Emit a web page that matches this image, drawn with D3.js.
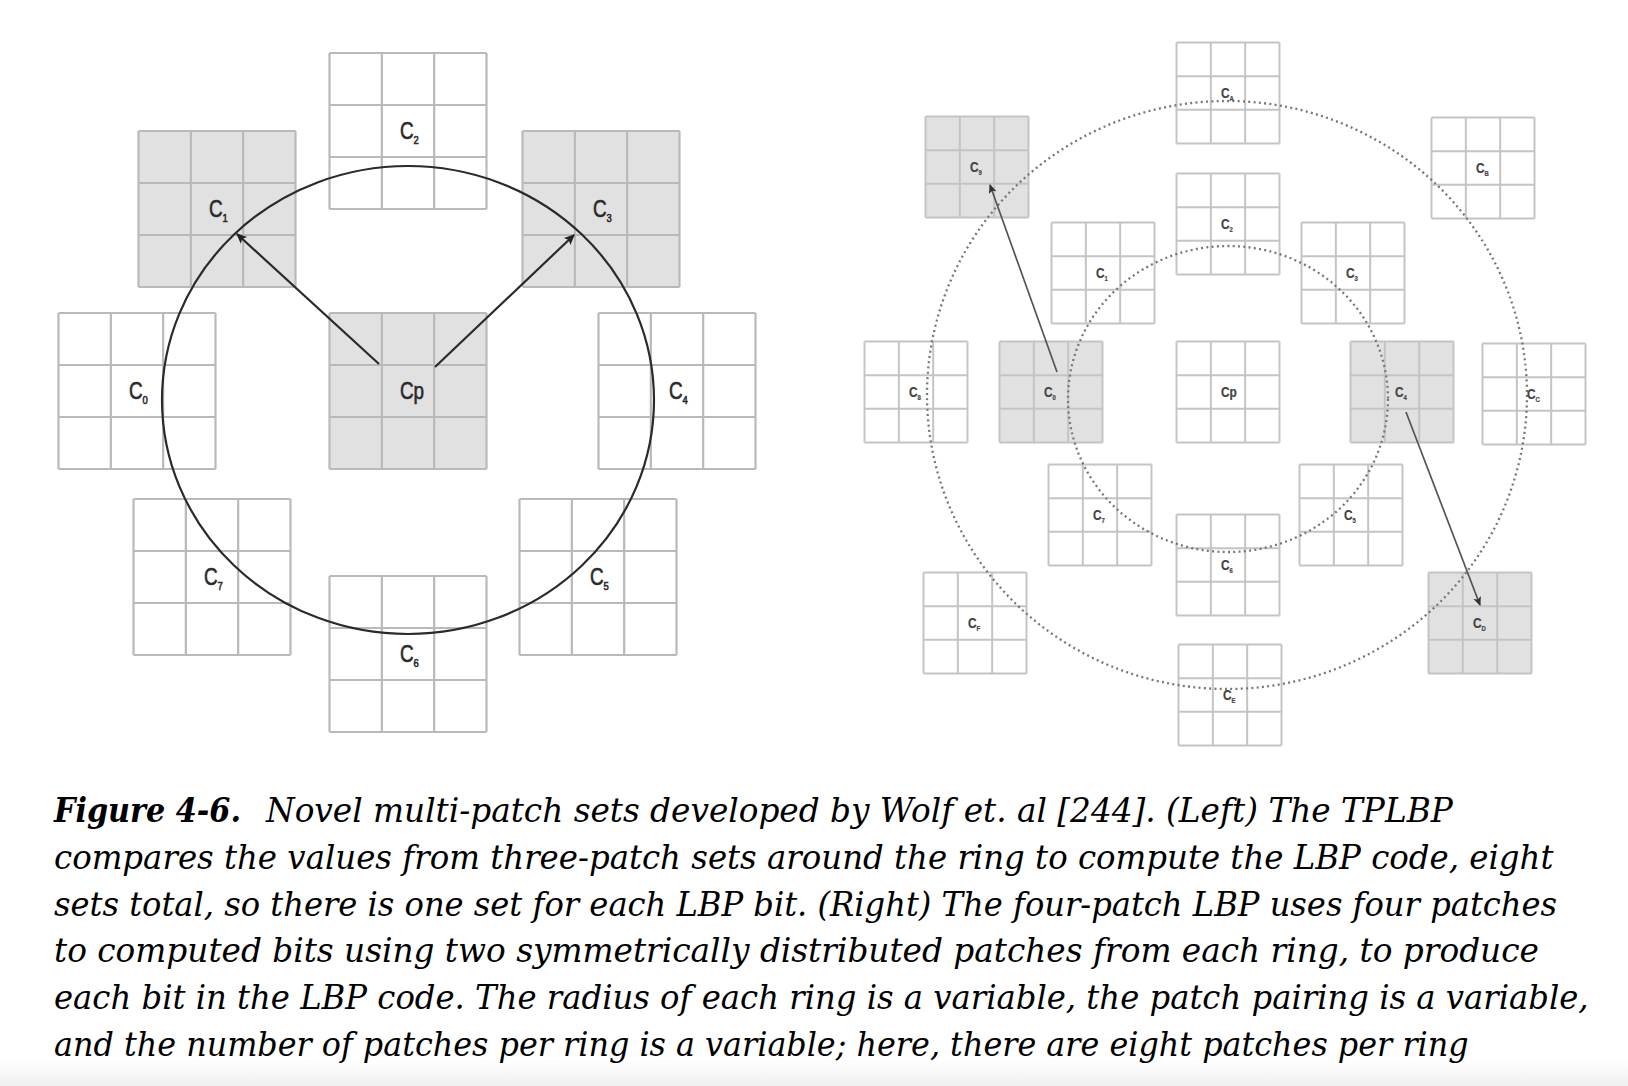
<!DOCTYPE html>
<html>
<head>
<meta charset="utf-8">
<script src="https://cdn.jsdelivr.net/npm/d3@7/dist/d3.min.js"></script>
<style>
body { margin: 0; background: #fff; }
</style>
</head>
<body>
<div class="fig"></div>
<script>
// left ring: three-patch LBP (offsets from the centre patch)
var leftLabels = ["0", "1", "2", "3", "4", "5", "6", "7"];
var leftDx = [-271, -191, 0, 193, 269, 190, 0, -196];
var leftDy = [0, -182, -260, -182, 0, 186, 263, 186];
var leftShaded = ["1", "3", "p"];
var leftArrowFrom = [[-29, -27], [27, -24]];
var leftArrowTo = [[-171, -157], [166, -156]];

// right rings: four-patch LBP, inner ring 0..7, outer ring 8..F
var rightLabels = ["0", "1", "2", "3", "4", "5", "6", "7", "8", "9", "A", "B", "C", "D", "E", "F"];
var rightDx = [-177, -125, 0, 125, 174, 123, 0, -128, -312, -251, 0, 255, 306, 252, 2, -253];
var rightDy = [0, -119, -168, -119, 0, 123, 173, 123, 0, -225, -299, -224, 2, 231, 303, 231];
var rightShaded = ["0", "4", "9", "D"];
var rightArrowFrom = [[-171, -20], [178, 20]];
var rightArrowTo = [[-238, -207], [252, 213]];

var captionHead = "Figure 4-6.";
var captionLines = [
  "Novel multi-patch sets developed by Wolf et. al [244]. (Left) The TPLBP",
  "compares the values from three-patch sets around the ring to compute the LBP code, eight",
  "sets total, so there is one set for each LBP bit. (Right) The four-patch LBP uses four patches",
  "to computed bits using two symmetrically distributed patches from each ring, to produce",
  "each bit in the LBP code. The radius of each ring is a variable, the patch pairing is a variable,",
  "and the number of patches per ring is a variable; here, there are eight patches per ring"
];

var W = 1628, H = 1086;

var svg = d3.select('.fig')
  .append('svg')
    .attr('width', W)
    .attr('height', H)
    .style('display', 'block');

var defs = svg.append('defs');
var grad = defs.append('linearGradient').attr('id', 'shade').attr('x1', 0).attr('x2', 0).attr('y1', 0).attr('y2', 1);
grad.append('stop').attr('offset', 0).attr('stop-color', '#ffffff');
grad.append('stop').attr('offset', 1).attr('stop-color', '#efefef');
svg.append('rect').attr('x', 0).attr('y', 1060).attr('width', W).attr('height', H - 1060).attr('fill', 'url(#shade)');

function addMarker(id, color, size) {
  defs.append('marker')
    .attr('id', id)
    .attr('viewBox', '-1 -5 11 10')
    .attr('refX', 8).attr('refY', 0)
    .attr('markerUnits', 'userSpaceOnUse')
    .attr('markerWidth', size).attr('markerHeight', size)
    .attr('orient', 'auto')
    .append('path')
      .attr('d', 'M0,-4L9,0L0,4L2,0Z')
      .attr('fill', color);
}
addMarker('headL', '#222', 13);
addMarker('headR', '#333', 11);

function drawRing(opt) {
  var x = d3.scaleLinear().domain([-400, 400]).range([opt.cx - 400, opt.cx + 400]);
  var y = d3.scaleLinear().domain([-400, 400]).range([opt.cy - 400, opt.cy + 400]);
  var gx = d3.scaleLinear().domain([0, 3]).range([0, opt.pw]);
  var gy = d3.scaleLinear().domain([0, 3]).range([0, opt.ph]);

  var patches = opt.labels.map(function(l, i) {
    return { id: l, dx: opt.dx[i], dy: opt.dy[i] };
  });
  patches.push({ id: 'p', dx: 0, dy: 0 });

  var g = svg.append('g');

  var p = g.selectAll('g.patch')
    .data(patches)
    .enter()
      .append('g')
      .attr('class', 'patch')
      .attr('transform', function(d) {
        return 'translate(' + (x(d.dx) - opt.pw / 2) + ',' + (y(d.dy) - opt.ph / 2) + ')';
      });

  p.append('rect')
    .attr('width', opt.pw).attr('height', opt.ph)
    .attr('fill', function(d) { return opt.shaded.indexOf(d.id) >= 0 ? opt.fill : '#fff'; });

  p.selectAll('line.v')
    .data(d3.range(4))
    .enter().append('line')
      .attr('x1', function(k) { return gx(k); }).attr('x2', function(k) { return gx(k); })
      .attr('y1', 0).attr('y2', opt.ph)
      .attr('stroke', opt.grid).attr('stroke-width', opt.gw);
  p.selectAll('line.h')
    .data(d3.range(4))
    .enter().append('line')
      .attr('y1', function(k) { return gy(k); }).attr('y2', function(k) { return gy(k); })
      .attr('x1', 0).attr('x2', opt.pw)
      .attr('stroke', opt.grid).attr('stroke-width', opt.gw);

  // rings
  g.selectAll('ellipse')
    .data(opt.rings)
    .enter().append('ellipse')
      .attr('cx', function(r) { return x(r[0]); })
      .attr('cy', function(r) { return y(r[1]); })
      .attr('rx', function(r) { return r[2]; })
      .attr('ry', function(r) { return r[3]; })
      .attr('fill', 'none')
      .attr('stroke', opt.ringColor)
      .attr('stroke-width', opt.ringWidth)
      .attr('stroke-dasharray', opt.dash);

  // arrows
  g.selectAll('line.arrow')
    .data(opt.from.map(function(f, i) { return [f, opt.to[i]]; }))
    .enter().append('line')
      .attr('class', 'arrow')
      .attr('x1', function(a) { return x(a[0][0]); })
      .attr('y1', function(a) { return y(a[0][1]); })
      .attr('x2', function(a) { return x(a[1][0]); })
      .attr('y2', function(a) { return y(a[1][1]); })
      .attr('stroke', opt.arrowColor)
      .attr('stroke-width', opt.arrowWidth)
      .attr('marker-end', 'url(#' + opt.marker + ')');

  // labels
  var t = g.selectAll('text.lab')
    .data(patches)
    .enter().append('text')
      .attr('class', 'lab')
      .attr('transform', function(d) {
        return 'translate(' + (x(d.dx) + opt.lx) + ',' + (y(d.dy) + opt.ly) + ') scale(' + opt.squeeze + ',1)';
      })
      .style('font-family', 'Liberation Sans, Arial, sans-serif')
      .style('font-size', opt.fs + 'px')
      .style('font-weight', opt.fw)
      .attr('fill', opt.textColor)
      .attr('stroke', opt.textColor)
      .attr('stroke-width', opt.ts);
  t.append('tspan').text('C');
  t.append('tspan')
    .text(function(d) { return d.id; })
    .style('font-size', function(d) { return d.id === 'p' ? opt.fs + 'px' : (opt.fs * 0.5) + 'px'; })
    .attr('dy', function(d) { return d.id === 'p' ? 0 : opt.fs * 0.22; });
}

drawRing({
  cx: 408, cy: 391, pw: 157, ph: 156,
  labels: leftLabels, dx: leftDx, dy: leftDy, shaded: leftShaded,
  fill: '#e1e1e1', grid: '#b9b9b9', gw: 2.2,
  rings: [[0, 9, 246, 234]], ringColor: '#2a2a2a', ringWidth: 2.2, dash: null,
  from: leftArrowFrom, to: leftArrowTo, arrowColor: '#2a2a2a', arrowWidth: 2.2, marker: 'headL',
  lx: -8, ly: 8, fs: 23, fw: 'normal', squeeze: 0.82, textColor: '#2a2a2a', ts: 0.6
});

drawRing({
  cx: 1228, cy: 392, pw: 103, ph: 101,
  labels: rightLabels, dx: rightDx, dy: rightDy, shaded: rightShaded,
  fill: '#e1e1e1', grid: '#c4c4c4', gw: 2,
  rings: [[-1, 3, 300, 294], [0, 7, 160, 153]], ringColor: '#777', ringWidth: 2.3, dash: '2,3.3',
  from: rightArrowFrom, to: rightArrowTo, arrowColor: '#555', arrowWidth: 1.7, marker: 'headR',
  lx: -7, ly: 5, fs: 14, fw: 'bold', squeeze: 0.85, textColor: '#444', ts: 0.2
});

// caption: each line is squeezed horizontally to the width it has in the print
var capX0 = 54, capY0 = 822, capStep = 46.8;
var lineEnds = [1453, 1554, 1558, 1539, 1589, 1469];
var cap = svg.append('g')
  .style('font-family', '"DejaVu Serif Condensed", "DejaVu Serif", Georgia, serif')
  .style('font-style', 'italic')
  .style('font-size', '34px')
  .attr('fill', '#000');

function fitLine(sel, x0, y0, width) {
  var natural = sel.node().getComputedTextLength();
  sel.attr('transform', 'translate(' + x0 + ',' + y0 + ') scale(' + (width / natural) + ',1)');
}

var head = cap.append('text')
  .style('font-weight', 'bold')
  .text(captionHead);
fitLine(head, capX0, capY0, 187);

cap.selectAll('text.line')
  .data(captionLines)
  .enter().append('text')
    .attr('class', 'line')
    .text(function(d) { return d; })
    .each(function(d, i) {
      var x0 = i === 0 ? 266 : capX0;
      fitLine(d3.select(this), x0, capY0 + i * capStep, lineEnds[i] - x0);
    });
</script>
</body>
</html>
